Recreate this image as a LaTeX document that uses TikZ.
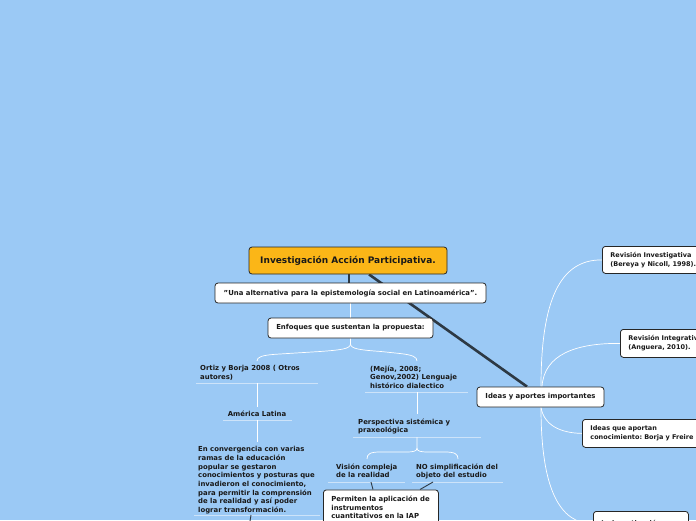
\documentclass[tikz,border=0pt]{standalone}
\usepackage{fontspec}
\setmainfont{DejaVu Sans}
\frenchspacing
\definecolor{bg}{RGB}{155,201,245}
\definecolor{dk}{RGB}{45,57,68}
\definecolor{og}{RGB}{251,182,23}
\definecolor{ul}{RGB}{205,227,249}
\pgfdeclarelayer{backlayer}
\pgfdeclarelayer{linelayer}
\pgfsetlayers{backlayer,linelayer,main}
\tikzset{
  every node/.style={font=\bfseries\fontsize{6.9}{8.7}\selectfont, text=black!90},
  box/.style={draw=black!85, line width=0.8pt, rounded corners=3pt, fill=white, align=left, inner xsep=8pt, inner ysep=5pt},
  rbox/.style={box, anchor=north west, font=\bfseries\fontsize{6.5}{8.8}\selectfont},
  plain/.style={inner sep=0pt, anchor=north west, align=left},
  uline/.style={draw=ul, line width=1pt},
  wl/.style={draw=white, line width=0.7pt},
  thk/.style={draw=dk, line width=2.6pt},
  dl/.style={draw=dk, line width=0.9pt}
}
\begin{document}
\begin{tikzpicture}[x=1pt,y=-1pt]
\begin{pgfonlayer}{backlayer}
\fill[bg] (0,0) rectangle (696,520);
\end{pgfonlayer}
\useasboundingbox (0,0) rectangle (696,520);
\clip (0,0) rectangle (696,520);

% boxed nodes
\node[box, fill=og, minimum width=198pt, minimum height=27pt, align=center, font=\bfseries\fontsize{9}{10}\selectfont] (title) at (348,260.5) {Investigación Acción Participativa.};
\node[box, minimum width=271pt, minimum height=20pt, align=center] (sub) at (350.5,293) {"Una alternativa para la epistemología social en Latinoamérica".};
\node[box, minimum width=165pt, minimum height=20pt, align=center] (enf) at (350.5,328) {Enfoques que sustentan la propuesta:};
\node[box, minimum width=127pt, minimum height=20pt, align=center] (ideas) at (540.5,397) {Ideas y aportes importantes};

\node[rbox, text width=100pt, minimum height=27pt] (revinv) at (602,246) {Revisión Investigativa\\(Bereya y Nicoll, 1998).};
\node[rbox, text width=100pt, minimum height=28pt] (revint) at (620,329) {Revisión Integrativa\\(Anguera, 2010).};
\node[rbox, text width=130pt, minimum height=28pt] (ideasq) at (582,419) {Ideas que aportan\\conocimiento: Borja y Freire};
\node[rbox, text width=79pt, minimum height=25pt] (lainv) at (593,511) {La investigación};
\node[box, anchor=north west, text width=99pt, inner ysep=6pt] (perm) at (323,489.5) {Permiten la aplicación de\\instrumentos\\cuantitativos en la IAP};

% plain text nodes
\node[plain] (ortiz) at (200,365.3) {Ortiz y Borja 2008 ( Otros\\autores)};
\node[plain, anchor=north] (amer) at (257,410.3) {América Latina};
\node[plain] (conv) at (198,446.3) {En convergencia con varias\\ramas de la educación\\popular se gestaron\\conocimientos y posturas que\\invadieron el conocimiento,\\para permitir la comprensión\\de la realidad y así poder\\lograr transformación.};
\node[plain] (mejia) at (370,365.5) {(Mejía, 2008;\\Genov,2002) Lenguaje\\histórico dialectico};
\node[plain] (persp) at (358,418.3) {Perspectiva sistémica y\\praxeológica};
\node[plain] (vision) at (336,463.3) {Visión compleja\\de la realidad};
\node[plain] (nosimp) at (416,463.3) {NO simplificación del\\objeto del estudio};

\coordinate (ortizU) at (257,383);
\coordinate (amerU) at (257,420);
\coordinate (convU) at (251,515);
\coordinate (mejiaU) at (417,392);
\coordinate (perspU) at (417,437);
\coordinate (visU) at (371,482);
\coordinate (nosU) at (433,482);
\coordinate (ortizT) at (257,361);
\coordinate (mejiaT) at (417,361);
\coordinate (visT) at (367,459);
\coordinate (nosT) at (458,459);
\coordinate (offc) at (249,527);

\begin{pgfonlayer}{linelayer}
% underlines
\draw[uline] (196,383) -- (318,383);
\draw[uline] (223,420) -- (292,420);
\draw[uline] (194,515) -- (320,515);
\draw[uline] (365,392) -- (468,392);
\draw[uline] (353,437) -- (481,437);
\draw[uline] (328,482) -- (405,482);
\draw[uline] (412,482) -- (503,482);

% thick dark connectors
\draw[thk] (title.south -| 349,0) -- (sub.north -| 349,0);
\draw[thk] (title.south -| 369,0) -- (ideas.north -| 527,0);

% white connectors
\draw[wl] (sub.south) -- (enf.north);
\draw[wl] (enf.south) -- (350.5,344) .. controls (350.5,349) and (340,350) .. (320,351.5) -- (275,354.3) .. controls (262,355.3) and (257,357) .. (ortizT);
\draw[wl] (350.5,344) .. controls (350.5,349) and (361,350) .. (381,351.5) -- (400,353.5) .. controls (413,355) and (417,357) .. (mejiaT);
\draw[wl, shorten >=3.5pt] (ortizU) -- (amer.north);
\draw[wl, shorten >=4.5pt] (amerU) -- (conv.north -| amerU);
\draw[wl, shorten >=4.5pt] (mejiaU) -- (persp.north -| mejiaU);
\draw[wl] (perspU) -- (417,448) .. controls (417,451.5) and (413,452) .. (405,452) -- (380,452) .. controls (370,452) and (367,454) .. (visT);
\draw[wl] (417,448) .. controls (417,451.5) and (421,452) .. (429,452) -- (445,452) .. controls (455,452) and (458,454) .. (nosT);

\draw[wl] (ideas.north -| 541,0) .. controls (541,300) and (560,259.5) .. (revinv.west);
\draw[wl] (ideas.north -| 542,0) .. controls (544,355) and (575,343) .. (revint.west);
\draw[wl] (ideas.south -| 541,0) .. controls (544,425) and (560,433) .. (ideasq.west);
\draw[wl] (ideas.south -| 541,0) .. controls (541,490) and (560,523.5) .. (lainv.west);

% thin dark connectors
\draw[dl] (visU) -- (perm.north -| 373,0);
\draw[dl] (nosU) -- (perm.north -| 420,0);
\draw[dl] (convU) -- (offc);
\end{pgfonlayer}
\end{tikzpicture}
\end{document}
